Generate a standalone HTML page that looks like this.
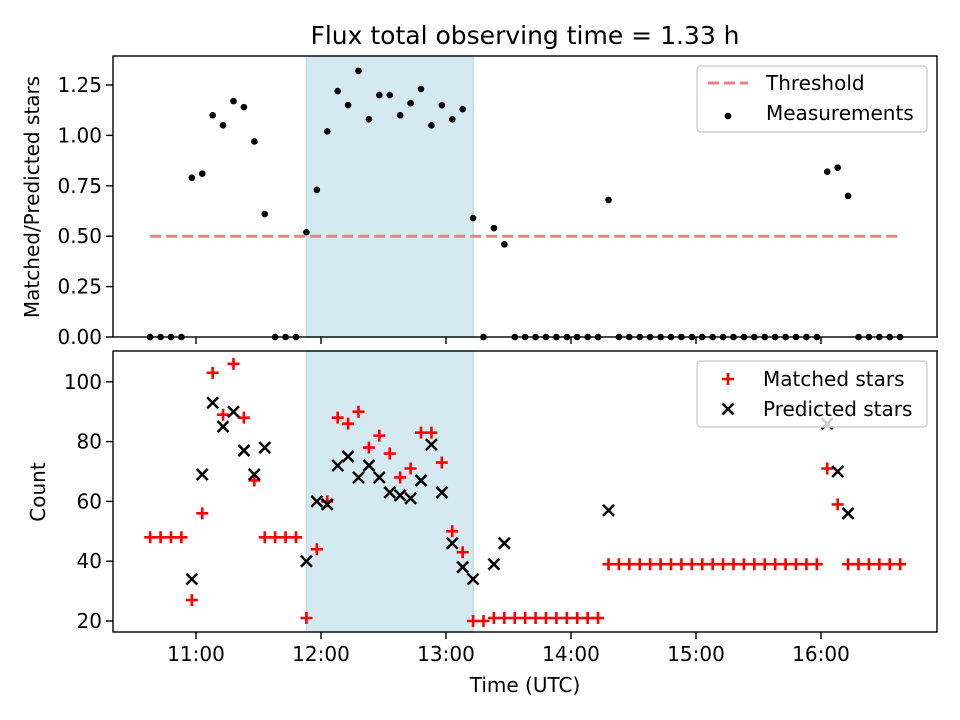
<!DOCTYPE html>
<html><head><meta charset="utf-8"><style>
body{margin:0;background:#fff}
svg{display:block;font-family:"DejaVu Sans","Liberation Sans",sans-serif}
</style></head><body>
<svg id="c" width="960" height="720" viewBox="0 0 960 720" xmlns="http://www.w3.org/2000/svg"></svg>
<script>
// ---- data ----
const startMinute = 638; // 10:38
const stepMinutes = 5;
const ratio = [0,0,0,0,0.79,0.81,1.10,1.05,1.17,1.14,0.97,0.61,0,0,0,0.52,0.73,1.02,1.22,1.15,1.32,1.08,1.20,1.20,1.10,1.16,1.23,1.05,1.15,1.08,1.13,0.59,0,0.54,0.46,0,0,0,0,0,0,0,0,0,0.68,0,0,0,0,0,0,0,0,0,0,0,0,0,0,0,0,0,0,0,0,0.82,0.84,0.70,0,0,0,0,0];
const matched = [48,48,48,48,27,56,103,89,106,88,67,48,48,48,48,21,44,60,88,86,90,78,82,76,68,71,83,83,73,50,43,20,20,21,21,21,21,21,21,21,21,21,21,21,39,39,39,39,39,39,39,39,39,39,39,39,39,39,39,39,39,39,39,39,39,71,59,39,39,39,39,39,39];
const predicted = [null,null,null,null,34,69,93,85,90,77,69,78,null,null,null,40,60,59,72,75,68,72,68,63,62,61,67,79,63,46,38,34,null,39,46,null,null,null,null,null,null,null,null,null,57,null,null,null,null,null,null,null,null,null,null,null,null,null,null,null,null,null,null,null,null,86,70,56,null,null,null,null,null];
const threshold = 0.5;
const shadeStart = 713, shadeEnd = 793; // minutes: 11:53 - 13:13
const topTicks = [0,0.25,0.5,0.75,1.0,1.25];
const bottomTicks = [20,40,60,80,100];
const xTickHours = [11,12,13,14,15,16];

// ---- scales ----
const X0=113,X1=937;
const xS = m => 196 + (m-660)*125/60;
const T0=56,T1=337, yTop = v => 337 - v*201.6;
const B0=351,B1=632, yBot = v => 621 - (v-20)*2.99;
const NS="http://www.w3.org/2000/svg";
const svg=document.getElementById('c');
function mk(tag,attrs,parent){const e=document.createElementNS(NS,tag);for(const k in attrs)e.setAttribute(k,attrs[k]);(parent||svg).appendChild(e);return e;}
function txt(s,attrs,parent){const e=mk('text',attrs,parent);e.textContent=s;return e;}

// title
let t=txt('Flux total observing time = 1.33 h',{x:525,y:44,'font-size':25,'text-anchor':'middle',fill:'#000'});



function panel(y0,y1,name){
  const g=mk('g',{});
  
  
  const sh=mk('rect',{x:xS(shadeStart),y:y0,width:xS(shadeEnd)-xS(shadeStart),height:y1-y0,fill:'#d5eaf0',stroke:'#bcdde7','stroke-width':1.5},g);
  
  
  return g;
}
const gTop=panel(T0,T1,'top-panel');
const gBot=panel(B0,B1,'bottom-panel');

// threshold line
const th=mk('line',{x1:xS(startMinute),x2:xS(startMinute+stepMinutes*(ratio.length-1)),y1:yTop(threshold),y2:yTop(threshold),stroke:'#f08080','stroke-width':3,'stroke-dasharray':'11 5'},gTop);



// measurement dots
ratio.forEach((v,i)=>{
  const c=mk('circle',{cx:xS(startMinute+i*stepMinutes),cy:yTop(v),r:3.3,fill:'#000'},gTop);
  
  
});

function plus(cx,cy,g){const p=mk('path',{d:`M${cx-6} ${cy}H${cx+6}M${cx} ${cy-6}V${cy+6}`,stroke:'#ff0000','stroke-width':2.6,fill:'none'},g);return p;}
function cross(cx,cy,g){const p=mk('path',{d:`M${cx-5.5} ${cy-5.5}L${cx+5.5} ${cy+5.5}M${cx-5.5} ${cy+5.5}L${cx+5.5} ${cy-5.5}`,stroke:'#000','stroke-width':2.5,fill:'none'},g);return p;}
matched.forEach((v,i)=>{
  const p=plus(xS(startMinute+i*stepMinutes),yBot(v),gBot);
  
  
});
predicted.forEach((v,i)=>{
  if(v===null)return;
  const p=cross(xS(startMinute+i*stepMinutes),yBot(v),gBot);
  
  
});

// frames and ticks
function axes(y0,y1,ticks,yf,fmt,labelsX,name){
  const f=mk('rect',{x:X0,y:y0,width:X1-X0,height:y1-y0,fill:'none',stroke:'#000','stroke-width':1.4});
  
  
  ticks.forEach(v=>{
    const y=yf(v);
    mk('line',{x1:X0-7,x2:X0,y1:y,y2:y,stroke:'#000','stroke-width':1.4});
    const l=txt(fmt(v),{x:X0-11,y:y+7,'font-size':20,'text-anchor':'end'});
    
    
  });
  xTickHours.forEach(h=>{
    const x=xS(h*60);
    mk('line',{x1:x,x2:x,y1:y1,y2:y1+7,stroke:'#000','stroke-width':1.4});
    if(labelsX){
      const l=txt(h+':00',{x:x,y:y1+29,'font-size':20,'text-anchor':'middle'});
      
      
    }
  });
}
axes(T0,T1,topTicks,yTop,v=>v.toFixed(2),false,'top-axes');
axes(B0,B1,bottomTicks,yBot,v=>String(v),true,'bottom-axes');

let yl=txt('Matched/Predicted stars',{x:0,y:0,'font-size':20,'text-anchor':'middle',transform:'translate(39,197) rotate(-90)'});


let yl2=txt('Count',{x:0,y:0,'font-size':20,'text-anchor':'middle',transform:'translate(45,492) rotate(-90)'});


let xl=txt('Time (UTC)',{x:525,y:692,'font-size':20,'text-anchor':'middle'});



// legends
function legend(y0,name){
  const g=mk('g',{});
  
  
  mk('rect',{x:697,y:y0,width:230,height:66,rx:4,fill:'#fff','fill-opacity':0.8,stroke:'#d0d0d0','stroke-width':1.4},g);
  return g;
}
const lt=legend(66,'top-legend');
let e1=mk('line',{x1:708,x2:748,y1:83,y2:83,stroke:'#f08080','stroke-width':3,'stroke-dasharray':'11 5'},lt);


let e1t=txt('Threshold',{x:766,y:90,'font-size':20},lt);


let e2=mk('circle',{cx:728,cy:116,r:3.3,fill:'#000'},lt);


let e2t=txt('Measurements',{x:766,y:120,'font-size':20},lt);



const lb=legend(361,'bottom-legend');
let e3=plus(728,379,lb);


let e3t=txt('Matched stars',{x:763,y:386,'font-size':20},lb);


let e4=cross(728,409,lb);


let e4t=txt('Predicted stars',{x:763,y:416,'font-size':20},lb);


</script>
</body></html>
